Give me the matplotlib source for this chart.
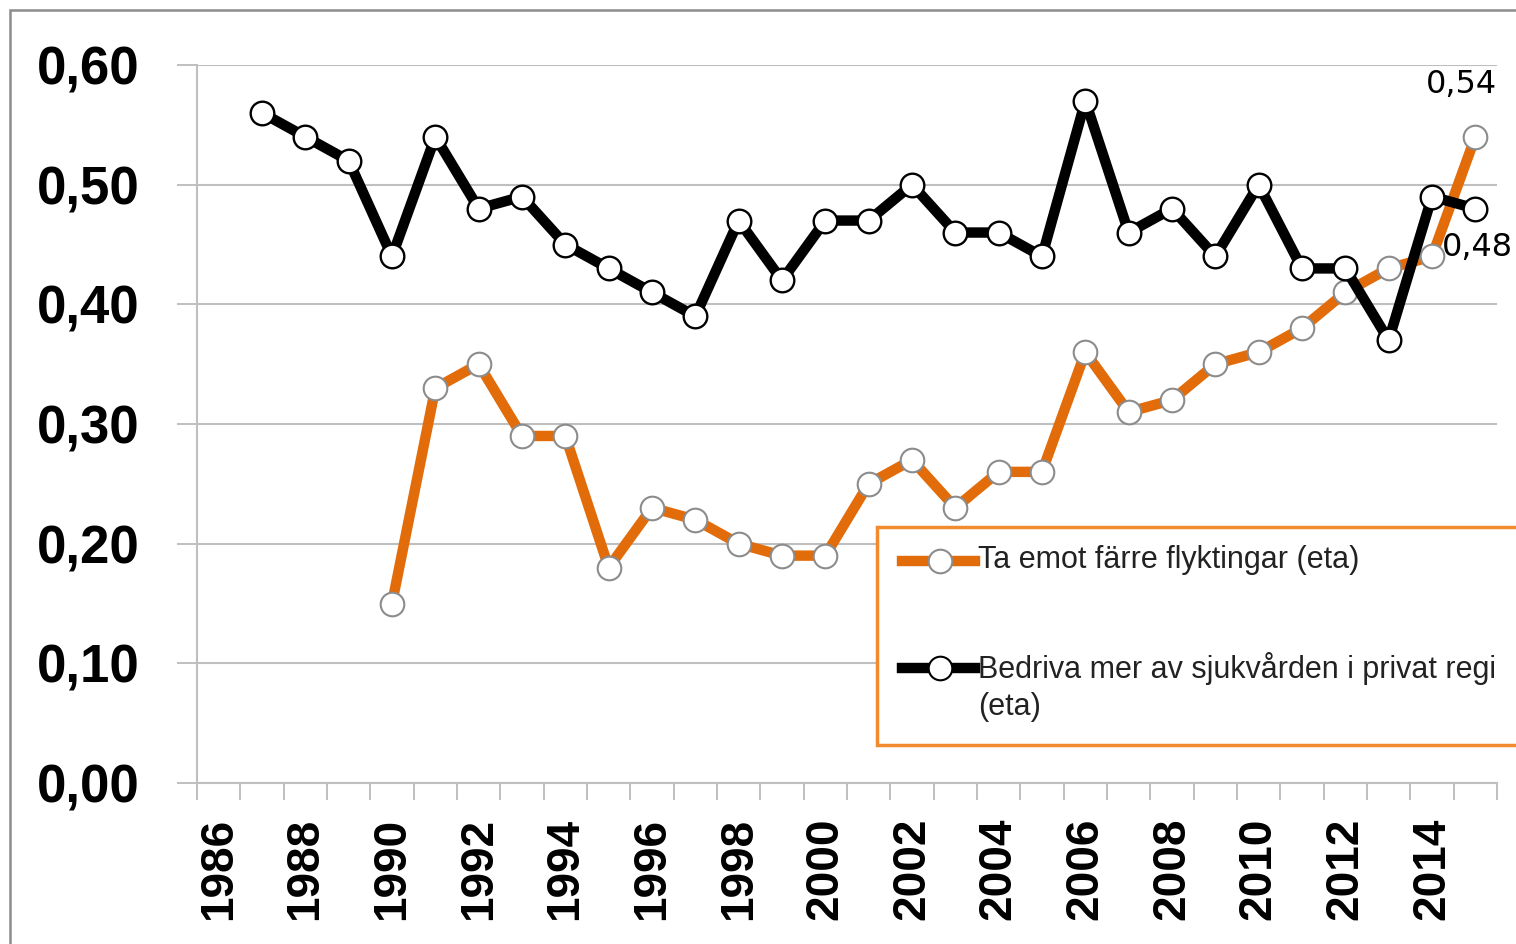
import numpy as np
import matplotlib
matplotlib.use('Agg')
import matplotlib.pyplot as plt
from matplotlib import font_manager
from matplotlib.patches import Rectangle
from matplotlib.lines import Line2D

years = list(range(1986, 2016))
flykt = [np.nan, np.nan, np.nan, np.nan,
         0.15, 0.33, 0.35, 0.29, 0.29, 0.18, 0.23, 0.22, 0.20, 0.19, 0.19,
         0.25, 0.27, 0.23, 0.26, 0.26, 0.36, 0.31, 0.32, 0.35, 0.36,
         0.38, 0.41, 0.43, 0.44, 0.54]
privat = [np.nan,
          0.56, 0.54, 0.52, 0.44, 0.54, 0.48, 0.49, 0.45, 0.43, 0.41,
          0.39, 0.47, 0.42, 0.47, 0.47, 0.50, 0.46, 0.46, 0.44, 0.57,
          0.46, 0.48, 0.44, 0.50, 0.43, 0.43, 0.37, 0.49, 0.48]
labels = ['Ta emot färre flyktingar (eta)',
          'Bedriva mer av sjukvården i privat regi\n(eta)']
yticks = [0.0, 0.1, 0.2, 0.3, 0.4, 0.5, 0.6]

ORANGE = '#E36C0A'
GRAY = '#BFBFBF'
W, H = 1516, 944

names = {f.name for f in font_manager.fontManager.ttflist}
narrow = 'Liberation Sans Narrow' if 'Liberation Sans Narrow' in names else 'Liberation Sans'

fig = plt.figure(figsize=(W / 100, H / 100), dpi=100)
ax = fig.add_axes([197 / W, 1 - 783 / H, (1497 - 197) / W, (783 - 65) / H])

x = np.arange(len(years))
ax.plot(x, flykt, color=ORANGE, lw=7.5, marker='o', ms=17, mfc='white',
        mec='#8C8C8C', mew=1.5, zorder=3, solid_joinstyle='round')
ax.plot(x, privat, color='black', lw=7.5, marker='o', ms=17, mfc='white',
        mec='black', mew=1.7, zorder=4, solid_joinstyle='round')

ax.set_xlim(-0.5, len(years) - 0.5)
ax.set_ylim(0, 0.6)

ax.set_yticks(yticks)
ax.set_yticklabels([f'{v:.2f}'.replace('.', ',') for v in yticks],
                   fontfamily='Liberation Sans', fontweight='bold', fontsize=38)
ax.tick_params(axis='y', length=14.4, width=1.4, color=GRAY, pad=27)
ax.grid(axis='y', color=GRAY, lw=1.5)
ax.set_axisbelow(True)

ax.set_xticks(x[::2])
ax.set_xticklabels([str(y) for y in years[::2]], rotation=90,
                   fontfamily='Liberation Sans', fontweight='bold', fontsize=33)
ax.set_xticks(np.arange(-0.5, len(years)), minor=True)
ax.tick_params(axis='x', which='major', length=0, pad=25)
ax.tick_params(axis='x', which='minor', length=12, width=1.4, color=GRAY)

for s in ['top', 'right']:
    ax.spines[s].set_visible(False)
for s in ['left', 'bottom']:
    ax.spines[s].set_color(GRAY)
    ax.spines[s].set_linewidth(1.5)

# data labels on the last points
ax.annotate('0,54', (x[-1], flykt[-1]), xytext=(-14, 52), textcoords='offset pixels',
            ha='center', va='center', fontsize=23, fontfamily='DejaVu Sans',
            annotation_clip=False)
ax.annotate('0,48', (x[-1], privat[-1]), xytext=(-33, -39), textcoords='offset pixels',
            ha='left', va='center', fontsize=23, fontfamily='DejaVu Sans',
            annotation_clip=False, zorder=5)

# legend box (runs off the right edge like the original)
fig.add_artist(Rectangle((877 / W, 1 - 745 / H), 700 / W, 218 / H,
                         transform=fig.transFigure, facecolor='white',
                         edgecolor='#F28A30', lw=2.5, zorder=10))
for (yy, col, mec), lab in zip([(561, ORANGE, '#8C8C8C'), (668, 'black', 'black')], labels):
    fig.add_artist(Line2D([902 / W, 975 / W], [1 - yy / H] * 2, transform=fig.transFigure,
                          color=col, lw=7.5, zorder=11))
    fig.add_artist(Line2D([940 / W], [1 - yy / H], transform=fig.transFigure,
                          marker='o', ms=17, mfc='white', mec=mec, mew=1.5, zorder=12))
    fig.text(978 / W, 1 - (yy - 16) / H, lab, ha='left', va='top', fontsize=22,
             fontfamily=narrow, color='#222222', linespacing=1.3, zorder=12)

# outer chart frame
fig.add_artist(Rectangle((10 / W, -0.1), 1.2, 1 - 10 / H + 0.1, transform=fig.transFigure,
                         facecolor='none', edgecolor='#8C8C8C', lw=1.8, zorder=20))

fig.savefig('out.png', dpi=100)
